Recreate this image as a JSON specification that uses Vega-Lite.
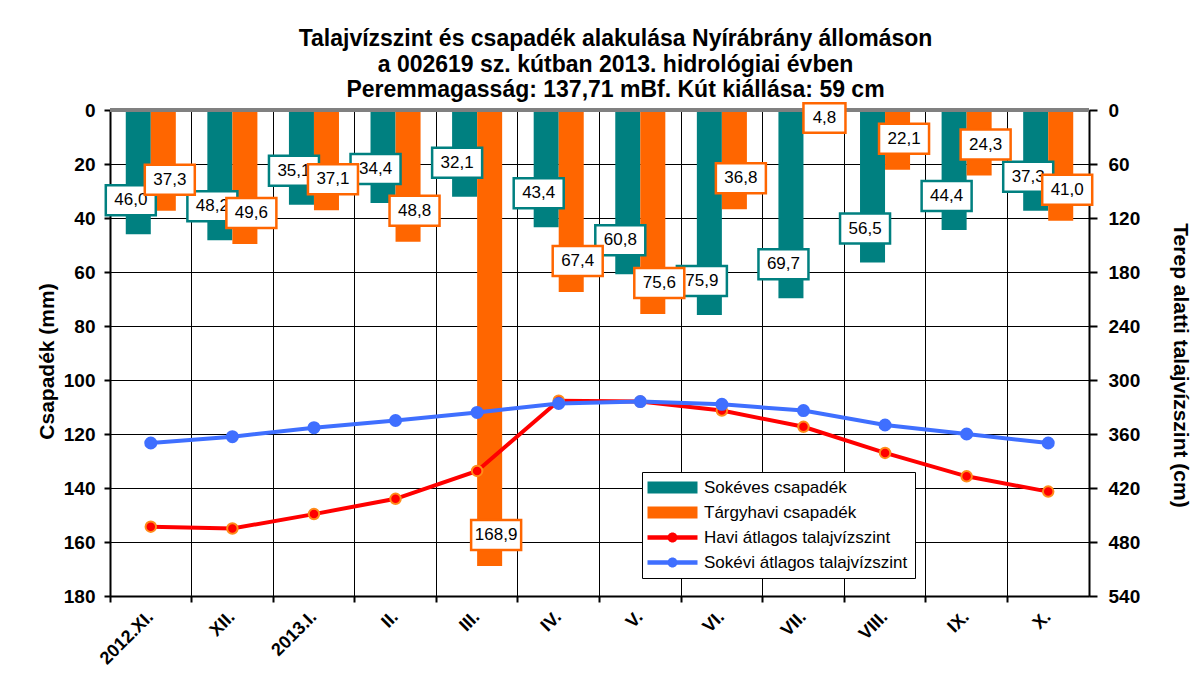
{
  "$schema": "https://vega.github.io/schema/vega-lite/v6.json",
  "width": 979,
  "height": 486,
  "autosize": {"type": "none"},
  "padding": {"left": 110, "top": 110, "right": 113, "bottom": 92},
  "background": "white",
  "config": {
    "font": "Liberation Sans",
    "view": {"stroke": null},
    "locale": {"number": {"decimal": ",", "thousands": " ", "grouping": [3], "currency": ["", ""]}},
    "axis": {"labelFont": "Liberation Sans", "labelFontWeight": "bold", "labelColor": "black", "titleColor": "black", "titleFont": "Liberation Sans", "domainColor": "black", "tickColor": "black", "gridColor": "black", "gridOpacity": 1}
  },
  "title": {
    "text": ["Talajvízszint és csapadék alakulása Nyírábrány állomáson", "a  002619 sz. kútban 2013. hidrológiai évben", "Peremmagasság: 137,71 mBf.  Kút kiállása: 59 cm"],
    "fontSize": 23, "fontWeight": "bold", "lineHeight": 25.5, "anchor": "middle", "offset": 4, "dx": 16, "dy": 8, "color": "black", "font": "Liberation Sans"
  },
  "data": {"values": [
    {"m": "2012.XI.", "s": "Sokéves csapadék", "v": 46.0},
    {"m": "XII.", "s": "Sokéves csapadék", "v": 48.2},
    {"m": "2013.I.", "s": "Sokéves csapadék", "v": 35.1},
    {"m": "II.", "s": "Sokéves csapadék", "v": 34.4},
    {"m": "III.", "s": "Sokéves csapadék", "v": 32.1},
    {"m": "IV.", "s": "Sokéves csapadék", "v": 43.4},
    {"m": "V.", "s": "Sokéves csapadék", "v": 60.8},
    {"m": "VI.", "s": "Sokéves csapadék", "v": 75.9},
    {"m": "VII.", "s": "Sokéves csapadék", "v": 69.7},
    {"m": "VIII.", "s": "Sokéves csapadék", "v": 56.5},
    {"m": "IX.", "s": "Sokéves csapadék", "v": 44.4},
    {"m": "X.", "s": "Sokéves csapadék", "v": 37.3},
    {"m": "2012.XI.", "s": "Tárgyhavi csapadék", "v": 37.3},
    {"m": "XII.", "s": "Tárgyhavi csapadék", "v": 49.6},
    {"m": "2013.I.", "s": "Tárgyhavi csapadék", "v": 37.1},
    {"m": "II.", "s": "Tárgyhavi csapadék", "v": 48.8},
    {"m": "III.", "s": "Tárgyhavi csapadék", "v": 168.9},
    {"m": "IV.", "s": "Tárgyhavi csapadék", "v": 67.4},
    {"m": "V.", "s": "Tárgyhavi csapadék", "v": 75.6},
    {"m": "VI.", "s": "Tárgyhavi csapadék", "v": 36.8},
    {"m": "VII.", "s": "Tárgyhavi csapadék", "v": 4.8},
    {"m": "VIII.", "s": "Tárgyhavi csapadék", "v": 22.1},
    {"m": "IX.", "s": "Tárgyhavi csapadék", "v": 24.3},
    {"m": "X.", "s": "Tárgyhavi csapadék", "v": 41.0},
    {"m": "2012.XI.", "s": "Havi átlagos talajvízszint", "v": 463},
    {"m": "XII.", "s": "Havi átlagos talajvízszint", "v": 465},
    {"m": "2013.I.", "s": "Havi átlagos talajvízszint", "v": 449},
    {"m": "II.", "s": "Havi átlagos talajvízszint", "v": 432},
    {"m": "III.", "s": "Havi átlagos talajvízszint", "v": 401},
    {"m": "IV.", "s": "Havi átlagos talajvízszint", "v": 323},
    {"m": "V.", "s": "Havi átlagos talajvízszint", "v": 324},
    {"m": "VI.", "s": "Havi átlagos talajvízszint", "v": 334},
    {"m": "VII.", "s": "Havi átlagos talajvízszint", "v": 352},
    {"m": "VIII.", "s": "Havi átlagos talajvízszint", "v": 381},
    {"m": "IX.", "s": "Havi átlagos talajvízszint", "v": 407},
    {"m": "X.", "s": "Havi átlagos talajvízszint", "v": 424},
    {"m": "2012.XI.", "s": "Sokévi átlagos talajvízszint", "v": 370},
    {"m": "XII.", "s": "Sokévi átlagos talajvízszint", "v": 363},
    {"m": "2013.I.", "s": "Sokévi átlagos talajvízszint", "v": 353},
    {"m": "II.", "s": "Sokévi átlagos talajvízszint", "v": 345},
    {"m": "III.", "s": "Sokévi átlagos talajvízszint", "v": 336},
    {"m": "IV.", "s": "Sokévi átlagos talajvízszint", "v": 326},
    {"m": "V.", "s": "Sokévi átlagos talajvízszint", "v": 324},
    {"m": "VI.", "s": "Sokévi átlagos talajvízszint", "v": 327},
    {"m": "VII.", "s": "Sokévi átlagos talajvízszint", "v": 334},
    {"m": "VIII.", "s": "Sokévi átlagos talajvízszint", "v": 350},
    {"m": "IX.", "s": "Sokévi átlagos talajvízszint", "v": 360},
    {"m": "X.", "s": "Sokévi átlagos talajvízszint", "v": 370}
  ]},
  "layer": [
    {
      "layer": [
        {
          "transform": [{"filter": "datum.s === 'Sokéves csapadék' || datum.s === 'Tárgyhavi csapadék'"}],
          "mark": {"type": "bar"},
          "encoding": {
            "x": {"field": "m", "type": "ordinal", "sort": ["2012.XI.", "XII.", "2013.I.", "II.", "III.", "IV.", "V.", "VI.", "VII.", "VIII.", "IX.", "X."],
              "scale": {"paddingInner": 0, "paddingOuter": 0},
              "axis": {"title": null, "orient": "bottom", "bandPosition": 0, "labelAngle": -45, "labelAlign": "right", "labelBaseline": "middle", "labelPadding": 12, "labelFontSize": 18, "grid": true, "gridWidth": 1, "domainWidth": 2, "tickSize": 6, "tickWidth": 2}},
            "xOffset": {"field": "s", "type": "nominal", "sort": ["Sokéves csapadék", "Tárgyhavi csapadék"], "scale": {"paddingInner": 0, "paddingOuter": 0.63}},
            "y": {"field": "v", "type": "quantitative", "scale": {"domain": [0, 180], "reverse": true, "nice": false},
              "axis": {"orient": "left", "values": [0, 20, 40, 60, 80, 100, 120, 140, 160, 180], "title": "Csapadék (mm)", "titleFontSize": 21, "titleFontWeight": "bold", "titlePadding": 6, "titleY": 251, "labelFontSize": 19, "labelPadding": 9, "grid": true, "gridWidth": 1, "domainWidth": 2, "tickSize": 6, "tickWidth": 2}},
            "color": {"field": "s", "type": "nominal",
              "scale": {"domain": ["Sokéves csapadék", "Tárgyhavi csapadék", "Havi átlagos talajvízszint", "Sokévi átlagos talajvízszint"], "range": ["#008080", "#FF6600", "#FF0000", "#3F6FFF"]},
              "legend": {"title": null, "orient": "none", "legendX": 532, "legendY": 362, "direction": "vertical", "fillColor": "white", "strokeColor": "black", "padding": 7, "labelFontSize": 17, "labelFont": "Liberation Sans", "labelColor": "black", "labelLimit": 0, "symbolSize": 100, "rowPadding": 7, "labelOffset": 38, "symbolStrokeWidth": 0,
                "encode": {"symbols": {"update": {
                  "shape": {"signal": "(datum.value === 'Sokéves csapadék' || datum.value === 'Tárgyhavi csapadék') ? 'M-2,-1.2H8V1.2H-2Z' : 'M-2,-0.45H8V0.45H-2Z M2,0A1,1,0,1,1,4,0A1,1,0,1,1,2,0Z'"},
                  "fill": {"scale": "color", "field": "value"},
                  "strokeWidth": {"value": 0}
                }}}}}
          }
        },
        {
          "mark": {"type": "rule", "color": "#808080", "strokeWidth": 3},
          "encoding": {"y": {"datum": 0}}
        },
        {
          "transform": [{"filter": "datum.s === 'Sokéves csapadék'"}],
          "mark": {"type": "point", "shape": "M-1,-0.6H1V0.6H-1Z", "size": 2500, "filled": true, "fill": "white", "stroke": "#008080", "strokeWidth": 2.5, "opacity": 1, "xOffset": -20, "yOffset": -34},
          "encoding": {
            "x": {"field": "m", "type": "ordinal", "sort": ["2012.XI.", "XII.", "2013.I.", "II.", "III.", "IV.", "V.", "VI.", "VII.", "VIII.", "IX.", "X."]},
            "y": {"field": "v", "type": "quantitative"}
          }
        },
        {
          "transform": [{"filter": "datum.s === 'Sokéves csapadék'"}],
          "mark": {"type": "text", "fontSize": 17, "font": "Liberation Sans", "color": "black", "xOffset": -20, "yOffset": -34, "baseline": "middle", "align": "center"},
          "encoding": {
            "x": {"field": "m", "type": "ordinal", "sort": ["2012.XI.", "XII.", "2013.I.", "II.", "III.", "IV.", "V.", "VI.", "VII.", "VIII.", "IX.", "X."]},
            "y": {"field": "v", "type": "quantitative"},
            "text": {"field": "v", "type": "quantitative", "format": ".1f"}
          }
        },
        {
          "transform": [{"filter": "datum.s === 'Tárgyhavi csapadék' && datum.v >= 10"}],
          "mark": {"type": "point", "shape": "M-1,-0.6H1V0.6H-1Z", "size": 2500, "filled": true, "fill": "white", "stroke": "#FF6600", "strokeWidth": 2.5, "opacity": 1, "xOffset": 19, "yOffset": -31},
          "encoding": {
            "x": {"field": "m", "type": "ordinal", "sort": ["2012.XI.", "XII.", "2013.I.", "II.", "III.", "IV.", "V.", "VI.", "VII.", "VIII.", "IX.", "X."]},
            "y": {"field": "v", "type": "quantitative"}
          }
        },
        {
          "transform": [{"filter": "datum.s === 'Tárgyhavi csapadék' && datum.v >= 10"}],
          "mark": {"type": "text", "fontSize": 17, "font": "Liberation Sans", "color": "black", "xOffset": 19, "yOffset": -31, "baseline": "middle", "align": "center"},
          "encoding": {
            "x": {"field": "m", "type": "ordinal", "sort": ["2012.XI.", "XII.", "2013.I.", "II.", "III.", "IV.", "V.", "VI.", "VII.", "VIII.", "IX.", "X."]},
            "y": {"field": "v", "type": "quantitative"},
            "text": {"field": "v", "type": "quantitative", "format": ".1f"}
          }
        },
        {
          "transform": [{"filter": "datum.s === 'Tárgyhavi csapadék' && datum.v < 10"}],
          "mark": {"type": "point", "shape": "M-1,-0.7H1V0.7H-1Z", "size": 1764, "filled": true, "fill": "white", "stroke": "#FF6600", "strokeWidth": 2.5, "opacity": 1, "xOffset": 21, "yOffset": -5},
          "encoding": {
            "x": {"field": "m", "type": "ordinal", "sort": ["2012.XI.", "XII.", "2013.I.", "II.", "III.", "IV.", "V.", "VI.", "VII.", "VIII.", "IX.", "X."]},
            "y": {"field": "v", "type": "quantitative"}
          }
        },
        {
          "transform": [{"filter": "datum.s === 'Tárgyhavi csapadék' && datum.v < 10"}],
          "mark": {"type": "text", "fontSize": 17, "font": "Liberation Sans", "color": "black", "xOffset": 21, "yOffset": -5, "baseline": "middle", "align": "center"},
          "encoding": {
            "x": {"field": "m", "type": "ordinal", "sort": ["2012.XI.", "XII.", "2013.I.", "II.", "III.", "IV.", "V.", "VI.", "VII.", "VIII.", "IX.", "X."]},
            "y": {"field": "v", "type": "quantitative"},
            "text": {"field": "v", "type": "quantitative", "format": ".1f"}
          }
        }
      ]
    },
    {
      "layer": [
        {
          "transform": [{"filter": "datum.s === 'Havi átlagos talajvízszint'"}],
          "mark": {"type": "line", "strokeWidth": 4},
          "encoding": {
            "x": {"field": "m", "type": "ordinal", "sort": ["2012.XI.", "XII.", "2013.I.", "II.", "III.", "IV.", "V.", "VI.", "VII.", "VIII.", "IX.", "X."]},
            "y": {"field": "v", "type": "quantitative", "scale": {"domain": [0, 540], "reverse": true, "nice": false},
              "axis": {"orient": "right", "values": [0, 60, 120, 180, 240, 300, 360, 420, 480, 540], "title": "Terep alatti talajvízszint (cm)", "titleFontSize": 21, "titleFontWeight": "bold", "titlePadding": 30, "titleY": 255, "labelFontSize": 19, "labelPadding": 11, "grid": false, "domainWidth": 2, "tickSize": 8, "tickWidth": 2}},
            "color": {"field": "s", "type": "nominal"}
          }
        },
        {
          "transform": [{"filter": "datum.s === 'Sokévi átlagos talajvízszint'"}],
          "mark": {"type": "line", "strokeWidth": 4},
          "encoding": {
            "x": {"field": "m", "type": "ordinal", "sort": ["2012.XI.", "XII.", "2013.I.", "II.", "III.", "IV.", "V.", "VI.", "VII.", "VIII.", "IX.", "X."]},
            "y": {"field": "v", "type": "quantitative"},
            "color": {"field": "s", "type": "nominal"}
          }
        },
        {
          "transform": [{"filter": "datum.s === 'Havi átlagos talajvízszint'"}],
          "mark": {"type": "point", "filled": true, "fill": "#FF0000", "stroke": "#FF8C1A", "strokeWidth": 2, "size": 110, "opacity": 1},
          "encoding": {
            "x": {"field": "m", "type": "ordinal", "sort": ["2012.XI.", "XII.", "2013.I.", "II.", "III.", "IV.", "V.", "VI.", "VII.", "VIII.", "IX.", "X."]},
            "y": {"field": "v", "type": "quantitative"}
          }
        },
        {
          "transform": [{"filter": "datum.s === 'Sokévi átlagos talajvízszint'"}],
          "mark": {"type": "point", "filled": true, "fill": "#3F6FFF", "size": 170, "opacity": 1},
          "encoding": {
            "x": {"field": "m", "type": "ordinal", "sort": ["2012.XI.", "XII.", "2013.I.", "II.", "III.", "IV.", "V.", "VI.", "VII.", "VIII.", "IX.", "X."]},
            "y": {"field": "v", "type": "quantitative"}
          }
        }
      ]
    }
  ],
  "resolve": {"scale": {"y": "independent"}}
}
